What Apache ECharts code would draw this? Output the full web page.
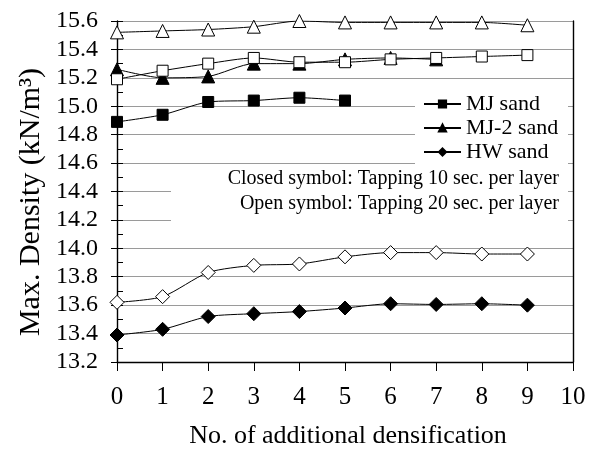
<!DOCTYPE html>
<html>
<head>
<meta charset="utf-8">
<script src="https://cdn.jsdelivr.net/npm/echarts@6/dist/echarts.min.js"></script>
<style>html,body{margin:0;padding:0;background:#fff}#c{width:594px;height:457px}</style>
</head>
<body>
<div id="c"></div>
<script>
const xValues = [0,1,2,3,4,5,6,7,8,9];
const mjClosed = [14.89,14.94,15.03,15.04,15.06,15.04];
const mjOpen = [15.19,15.25,15.30,15.34,15.31,15.31,15.33,15.34,15.35,15.36];
const mj2Closed = [15.26,15.20,15.21,15.30,15.30,15.33,15.34,15.33];
const mj2Open = [15.52,15.53,15.54,15.56,15.60,15.59,15.59,15.59,15.59,15.57];
const hwClosed = [13.39,13.43,13.52,13.54,13.555,13.58,13.61,13.605,13.61,13.60];
const hwOpen = [13.62,13.66,13.83,13.88,13.89,13.94,13.97,13.97,13.96,13.96];
const legendNames = ['MJ sand','MJ-2 sand','HW sand'];
const note1 = 'Closed symbol: Tapping 10 sec. per layer';
const note2 = 'Open symbol: Tapping 20 sec. per layer';
const xTitle = 'No. of additional densification';
const yTitle = 'Max. Density (kN/m³)';

const FONT = "Liberation Serif";
const pairs = v => v.map((y,i)=>[xValues[i],y]);
const tri = 'path://M0,-10L8.66,5L-8.66,5Z';
function mk(name, data, symbol, size, open) {
  return {
    name: name, type: 'line', data: pairs(data), smooth: 0.25,
    symbol: symbol, symbolSize: size, showSymbol: true,
    lineStyle: {color:'#000', width:1},
    itemStyle: {color: open ? '#fff' : '#000', borderColor:'#000', borderWidth: 1},
    z: 3
  };
}
const chart = echarts.init(document.getElementById('c'), null, {renderer:'canvas'});
const yBase = {type:'value', min:13.2, max:15.6, interval:0.2};
chart.setOption({
  animation:false,
  textStyle:{fontFamily:FONT},
  grid:{left:117, right:21, top:21, bottom:95},
  xAxis:[{type:'value', min:0, max:10, interval:1,
    axisLine:{lineStyle:{color:'#000', width:1.4}},
    axisTick:{length:9, lineStyle:{color:'#000'}},
    axisLabel:{color:'#000', fontSize:25, fontFamily:FONT, margin:23},
    splitLine:{show:false}}],
  yAxis:[
    Object.assign({}, yBase, {position:'left',
      axisLine:{show:true, lineStyle:{color:'#000', width:1.4}},
      axisTick:{show:true, length:6, lineStyle:{color:'#000'}},
      axisLabel:{color:'#000', fontSize:24, fontFamily:FONT, margin:19, formatter:v=>v.toFixed(1)},
      splitLine:{show:true, lineStyle:{color:'#9a9a9a', width:1}}}),
    Object.assign({}, yBase, {position:'left',
      axisLine:{show:false},
      axisTick:{show:true, inside:true, length:6, lineStyle:{color:'#000'}},
      minorTick:{show:true, splitNumber:2, length:6, lineStyle:{color:'#000'}},
      axisLabel:{show:false}, splitLine:{show:false}}),
    Object.assign({}, yBase, {position:'right',
      axisLine:{show:true, lineStyle:{color:'#000', width:1.4}},
      axisTick:{show:false}, axisLabel:{show:false}, splitLine:{show:false}})
  ],
  legend:{
    data: legendNames, orient:'vertical', left:419, top:91,
    itemWidth:37, itemHeight:9, itemGap:2,
    padding:[2,4,2,4],
    textStyle:{fontSize:22, lineHeight:22, fontFamily:FONT, color:'#000'},
    z:5
  },
  graphic:[
    {type:'rect', x:415, y:89, shape:{width:153, height:77}, style:{fill:'#fff'}, z:4},
    {type:'rect', x:171, y:167, shape:{width:397, height:72}, style:{fill:'#fff'}, z:4},
    {type:'text', x:559, y:179, style:{text:note1, fontSize:20, fontFamily:FONT, fill:'#000', textAlign:'right', textVerticalAlign:'middle'}, z:5},
    {type:'text', x:559, y:204, style:{text:note2, fontSize:20, fontFamily:FONT, fill:'#000', textAlign:'right', textVerticalAlign:'middle'}, z:5},
    {type:'text', x:348, y:436, style:{text:xTitle, fontSize:26, fontFamily:FONT, fill:'#000', textAlign:'center', textVerticalAlign:'middle'}},
    {type:'text', x:31, y:202, rotation:Math.PI/2, style:{text:yTitle, fontSize:30, fontFamily:FONT, fill:'#000', textAlign:'center', textVerticalAlign:'middle'}}
  ],
  series:[
    mk('MJ sand', mjClosed, 'rect', 11, false),
    mk('MJ-2 sand', mj2Closed, tri, 13, false),
    mk('HW sand', hwClosed, 'diamond', 14, false),
    mk('MJ sand (20s)', mjOpen, 'rect', 11, true),
    mk('MJ-2 sand (20s)', mj2Open, tri, 13, true),
    mk('HW sand (20s)', hwOpen, 'diamond', 14, true)
  ]
});
</script>
</body>
</html>
